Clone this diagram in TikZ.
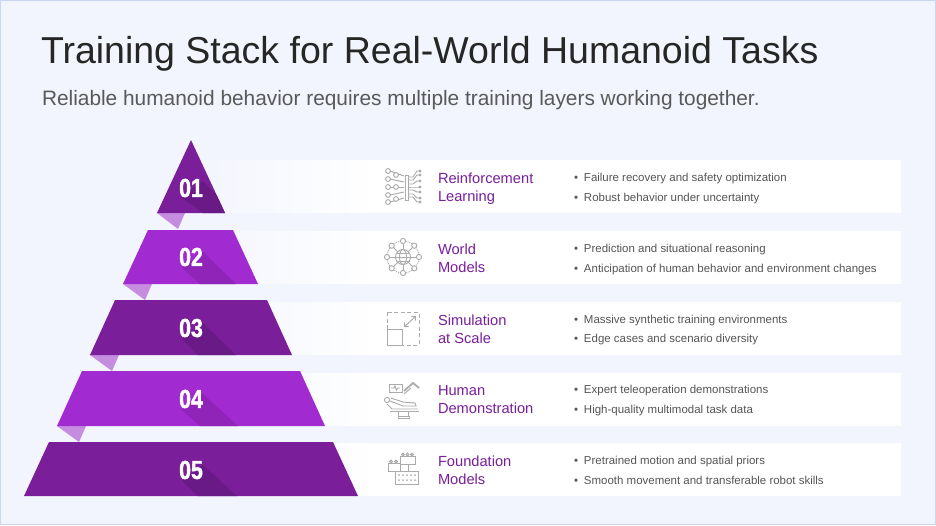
\documentclass[tikz,border=0pt]{standalone}
\usepackage{fontspec}
\setmainfont{Liberation Sans}
\newfontfamily\numfont[FakeStretch=0.82,FakeBold=1.6]{Liberation Sans}
\definecolor{pagebg}{HTML}{F2F5FD}
\definecolor{pageline}{HTML}{C9D8F0}
\definecolor{titleink}{HTML}{262626}
\definecolor{subink}{HTML}{595959}
\definecolor{bodyink}{HTML}{555555}
\definecolor{deep}{HTML}{7A1E9A}
\definecolor{deepshade}{HTML}{6A1A87}
\definecolor{bright}{HTML}{A12BD1}
\definecolor{brightshade}{HTML}{9023B8}
\definecolor{fold}{HTML}{C68CE0}
\definecolor{icongray}{HTML}{ABABAB}
\newcommand{\itemdot}{\makebox[10pt][l]{•}}
\usetikzlibrary{positioning, arrows.meta}
\pgfdeclarehorizontalshading{bandfade}{100bp}{color(0bp)=(pagebg); color(25bp)=(pagebg); color(38bp)=(white); color(100bp)=(white)}
\begin{document}
\begin{tikzpicture}[x=1pt,y=-1pt,every node/.style={inner sep=0pt,outer sep=0pt}]
\tikzstyle{bigtitle}=[anchor=base west, text=titleink, font=\fontsize{37.5}{42}\selectfont]
\tikzstyle{subtitle}=[anchor=base west, text=subink, font=\fontsize{20.86}{24}\selectfont]
\tikzstyle{layernum}=[text=white, font=\numfont\bfseries\fontsize{26}{30}\selectfont]
\tikzstyle{rowtitle}=[anchor=west, align=left, text=deep, font=\fontsize{14.66}{18}\selectfont]
\tikzstyle{rowitem}=[anchor=base west, text=bodyink, font=\fontsize{11.47}{13}\selectfont]
\tikzstyle{icon}=[draw=icongray, line width=0.95pt]
\tikzstyle{band}=[shading=bandfade, draw=none]
\useasboundingbox (0,0) rectangle (936,525);
\fill[pagebg] (0,0) rectangle (936,525);
\draw[pageline, line width=1.2pt] (0.6,0.6) rectangle (935.4,524.4);
% title
\node[bigtitle] (title) at (41,63) {Training Stack for Real-World Humanoid Tasks};
\node[subtitle] (subtitle) at (42,105) {Reliable humanoid behavior requires multiple training layers working together.};
% bands
\shade[band] (191,160.2) rectangle (901,212.6);
\shade[band] (191,231.2) rectangle (901,283.6);
\shade[band] (191,302.2) rectangle (901,354.6);
\shade[band] (191,373.2) rectangle (901,425.6);
\shade[band] (191,443.2) rectangle (901,495.6);
% folds
\fill[fold] (157,213) -- (185,213) -- (178,229) -- cycle;
\fill[fold] (123,284) -- (152,284) -- (145,300) -- cycle;
\fill[fold] (90,355) -- (119,355) -- (112,371) -- cycle;
\fill[fold] (57,426) -- (86,426) -- (79,442) -- cycle;
% pyramid layers
\fill[deep] (191,140) -- (225,213) -- (157,213) -- cycle;
\fill[bright] (148,230) -- (233,230) -- (258,284) -- (123,284) -- cycle;
\fill[deep] (115,300) -- (267,300) -- (292,355) -- (90,355) -- cycle;
\fill[bright] (82,371) -- (300,371) -- (325,426) -- (57,426) -- cycle;
\fill[deep] (49,442) -- (333,442) -- (358,496) -- (24,496) -- cycle;
% shadows
\begin{scope}
\clip (191,140) -- (225,213) -- (157,213) -- cycle;
\fill[deepshade] (203,181) -- (182,198) -- (203,213) -- (235,213) -- cycle;
\end{scope}
\fill[brightshade] (203,252) -- (182,268) -- (200,284) -- (236,284) -- cycle;
\fill[deepshade] (203,323) -- (182,339) -- (198,355) -- (236,355) -- cycle;
\fill[brightshade] (203,394) -- (182,410) -- (200,426) -- (238,426) -- cycle;
\fill[deepshade] (203,465) -- (182,481) -- (198,496) -- (237,496) -- cycle;
% numbers
\node[layernum] (n1) at (191,188) {01};
\node[layernum] (n2) at (191,257) {02};
\node[layernum] (n3) at (191,328) {03};
\node[layernum] (n4) at (191,399) {04};
\node[layernum] (n5) at (191,470) {05};
% row titles
\node[rowtitle] (t1) at (438,188.5) {Reinforcement\\Learning};
\node[rowtitle] (t2) at (438,258) {World\\Models};
\node[rowtitle] (t3) at (438,329) {Simulation\\at Scale};
\node[rowtitle] (t4) at (438,400) {Human\\Demonstration};
\node[rowtitle] (t5) at (438,470) {Foundation\\Models};
% row items
\node[rowitem] (i1a) at (574,181) {\itemdot Failure recovery and safety optimization};
\node[rowitem] (i1b) at (574,201) {\itemdot Robust behavior under uncertainty};
\node[rowitem] (i2a) at (574,252) {\itemdot Prediction and situational reasoning};
\node[rowitem] (i2b) at (574,272) {\itemdot Anticipation of human behavior and environment changes};
\node[rowitem] (i3a) at (574,323) {\itemdot Massive synthetic training environments};
\node[rowitem] (i3b) at (574,342) {\itemdot Edge cases and scenario diversity};
\node[rowitem] (i4a) at (574,393) {\itemdot Expert teleoperation demonstrations};
\node[rowitem] (i4b) at (574,413) {\itemdot High-quality multimodal task data};
\node[rowitem] (i5a) at (574,464) {\itemdot Pretrained motion and spatial priors};
\node[rowitem] (i5b) at (574,484) {\itemdot Smooth movement and transferable robot skills};
% icon 1
\foreach \y/\ty in {171/176,179/182,187/187,195/192,202/198}{
  \draw[icon] (388,\y) circle (2.4);
  \draw[icon] (390,\y) -- (404,\ty);
}
\foreach \y in {175,187,199}{ \draw[icon, fill=white] (396,\y) circle (2.4); }
\draw[icon] (405,175) rectangle (408,200);
\foreach \y/\ty in {171/177,175/180,181/184,187/187,192/190,198/194,202/197}{
  \draw[icon] (408,\ty) -- (413,\ty) -- (417,\y) -- (420,\y);
  \fill[icongray] (420,\y) circle (1.7);
}
% icon 2
\draw[icon] (403,257) circle (7.5);
\draw[icon] (403,257) ellipse (3.5 and 7.5);
\draw[icon] (395.5,257) -- (410.5,257);
\draw[icon] (396.5,253) -- (409.5,253);
\draw[icon] (396.5,261) -- (409.5,261);
\draw[icon, densely dotted] (403,257) circle (16);
\foreach \a in {0,45,...,315}{
  \draw[icon] (403,257) ++(\a:7.5) -- ++(\a:6);
  \draw[icon, fill=white] (403,257) ++(\a:16) circle (2.6);
}
% icon 3
\draw[icon, dash pattern=on 4pt off 2.6pt] (387,312) rectangle (419,345);
\draw[icon] (387,329) rectangle (402,345);
\draw[icon, {Straight Barb[length=3pt,width=6pt]}-{Straight Barb[length=3pt,width=6pt]}] (404,327) -- (416,316);
% icon 4
\draw[icon] (389,384) rectangle (402,392);
\draw[icon] (391,388) -- (394,388) -- (395,386) -- (396.5,390) -- (398,388) -- (400,388);
\draw[icon, line width=1.8pt] (404,391) -- (413,383) -- (419,388);
\draw[icon] (404,394) -- (411,388);
\draw[icon] (387,400) circle (2.6);
\draw[icon] (390,401) -- (403,406) -- (416,406) -- (415,403) -- (403,402) -- (391,398);
\draw[icon] (387,404) -- (392,409) -- (418,409);
\draw[icon] (390,411) -- (419,411);
\draw[icon] (398,411) -- (398,416);
\draw[icon] (408,411) -- (408,416);
\draw[icon] (398,416) rectangle (409,418);
% icon 5
\draw[icon] (400,456) rectangle (415,464);
\draw[icon] (388,463) rectangle (400,471);
\draw[icon] (395,471) rectangle (418,484);
\draw[icon] (408,464) -- (408,471);
\foreach \x in {403,407.5,412}{ \draw[icon] (\x,454.5) circle (1.4); }
\foreach \x in {391,396}{ \draw[icon] (\x,461.5) circle (1.4); }
\foreach \x in {399,403,407,411,415}{
  \fill[icongray] (\x,475) circle (1);
  \fill[icongray] (\x,480) circle (1);
}
\end{tikzpicture}
\end{document}
